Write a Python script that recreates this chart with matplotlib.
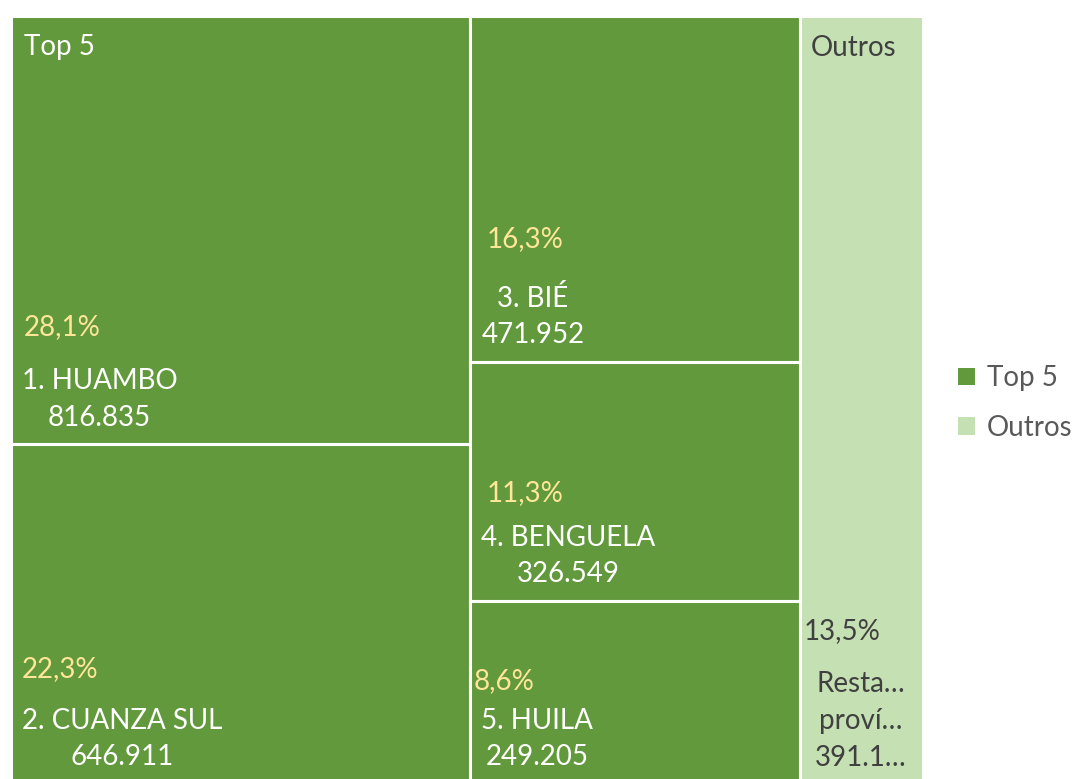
import matplotlib.pyplot as plt
from matplotlib.patches import Rectangle, Patch

plt.rcParams['font.family'] = ['Lato', 'DejaVu Sans']

# data
names = ['1. HUAMBO', '2. CUANZA SUL', '3. BIÉ', '4. BENGUELA', '5. HUILA']
values = [816835, 646911, 471952, 326549, 249205]
value_labels = ['816.835', '646.911', '471.952', '326.549', '249.205']
pct_labels = ['28,1%', '22,3%', '16,3%', '11,3%', '8,6%']
columns = [[0, 1], [2, 3, 4]]          # how the top 5 are stacked
other_value = 391100
other_label = 'Resta…\nproví…\n391.1…'
other_pct = '13,5%'

# label offsets in pixels (from lower left corner of each box)
pct_dx = [13, 11, 16, 16, 3]
pct_dy = [117, 115, 123, 108, 103]

dark = '#63993D'
light = '#C5E0B3'
yellow = '#FFE699'
fs = 20

W, H = 1079, 779
fig = plt.figure(figsize=(W / 100, H / 100), dpi=100)
ax = fig.add_axes([10.5 / W, (H - 784) / H, 912 / W, 768.5 / H])

total = sum(values) + other_value
x0 = 0
for col in columns:
    width = sum(values[i] for i in col)
    y = 1.0
    for i in col:
        h = values[i] / width
        ax.add_patch(Rectangle((x0, y - h), width, h, facecolor=dark,
                               edgecolor='white', linewidth=2.2))
        ax.annotate(pct_labels[i], (x0, y - h), xytext=(pct_dx[i], pct_dy[i]),
                    textcoords='offset pixels', color=yellow, fontsize=fs,
                    ha='left', va='center')
        ax.annotate(names[i] + '\n' + value_labels[i], (x0, y - h),
                    xytext=(11, 45), textcoords='offset pixels', color='white',
                    fontsize=fs, ha='left', va='center', multialignment='center',
                    linespacing=1.5)
        y -= h
    x0 += width

top5 = sum(values)
ax.add_patch(Rectangle((top5, 0), other_value, 1, facecolor=light,
                       edgecolor='white', linewidth=2.2))
ax.annotate(other_pct, (top5, 0), xytext=(4, 153), textcoords='offset pixels',
            color='#404040', fontsize=fs, ha='left', va='center')
ax.annotate(other_label, (top5 + other_value / 2, 0), xytext=(0, 63),
            textcoords='offset pixels', color='#404040', fontsize=fs,
            ha='center', va='center', linespacing=1.5)

# group headers
ax.annotate('Top 5', (0, 1), xytext=(13, -32), textcoords='offset pixels',
            color='white', fontsize=fs, ha='left', va='center')
ax.annotate('Outros', (top5, 1), xytext=(11, -32), textcoords='offset pixels',
            color='#404040', fontsize=fs, ha='left', va='center')

ax.set_xlim(0, total)
ax.set_ylim(0, 1)
ax.axis('off')

handles = [Patch(facecolor=dark, label='Top 5'), Patch(facecolor=light, label='Outros')]
leg = fig.legend(handles=handles, loc='center left', bbox_to_anchor=(958 / W, 1 - 403 / H),
                 frameon=False, fontsize=fs, handlelength=0.6, handleheight=0.6,
                 handletextpad=0.45, labelspacing=0.85, borderpad=0, borderaxespad=0)
for t in leg.get_texts():
    t.set_color('#595959')

fig.savefig('out.png', dpi=100)
